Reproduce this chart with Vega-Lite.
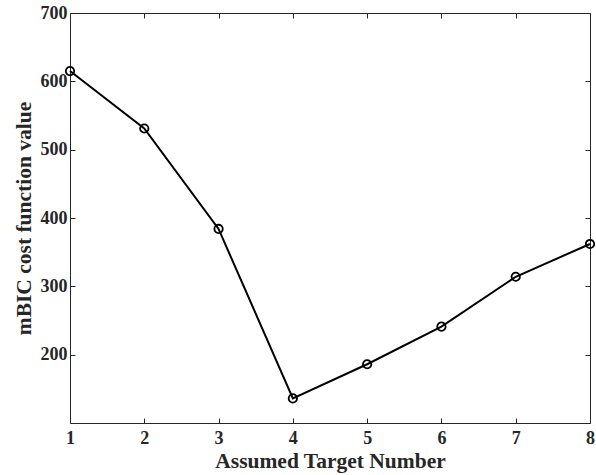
{
  "$schema": "https://vega.github.io/schema/vega-lite/v6.json",
  "autosize": "none",
  "width": 520,
  "height": 410,
  "padding": {"left": 70, "top": 13, "right": 6, "bottom": 52},
  "background": "white",
  "config": {
    "view": {"stroke": null},
    "font": "Liberation Serif",
    "axis": {
      "grid": false,
      "domainColor": "#262626",
      "tickColor": "#262626",
      "labelColor": "#262626",
      "titleColor": "#262626",
      "labelFont": "Liberation Serif",
      "titleFont": "Liberation Serif",
      "labelFontWeight": "bold",
      "titleFontWeight": "bold",
      "labelFontSize": 18,
      "titleFontSize": 21.5,
      "domainWidth": 1,
      "tickWidth": 1,
      "tickSize": -5
    }
  },
  "data": {
    "values": [
      {"n": 1, "v": 615},
      {"n": 2, "v": 531},
      {"n": 3, "v": 384},
      {"n": 4, "v": 136},
      {"n": 5, "v": 186},
      {"n": 6, "v": 241},
      {"n": 7, "v": 314},
      {"n": 8, "v": 362}
    ]
  },
  "resolve": {"axis": {"x": "independent", "y": "independent"}},
  "layer": [
    {
      "mark": {"type": "line", "color": "black", "strokeWidth": 2},
      "encoding": {
        "x": {"field": "n", "type": "quantitative", "scale": {"domain": [1, 8], "nice": false},
              "axis": {"title": "Assumed Target Number", "values": [1,2,3,4,5,6,7,8], "labelPadding": 11, "titlePadding": 3, "labelFlush": false}},
        "y": {"field": "v", "type": "quantitative", "scale": {"domain": [100, 700], "nice": false, "zero": false},
              "axis": {"title": "mBIC cost function value", "values": [200,300,400,500,600,700], "labelPadding": 8, "titlePadding": 5, "labelFlush": false}}
      }
    },
    {
      "mark": {"type": "point", "shape": "circle", "filled": false, "color": "black", "strokeWidth": 1.8, "size": 70, "opacity": 1},
      "encoding": {
        "x": {"field": "n", "type": "quantitative", "scale": {"domain": [1, 8], "nice": false},
              "axis": {"orient": "top", "title": null, "labels": false, "values": [1,2,3,4,5,6,7,8]}},
        "y": {"field": "v", "type": "quantitative", "scale": {"domain": [100, 700], "nice": false, "zero": false},
              "axis": {"orient": "right", "title": null, "labels": false, "values": [200,300,400,500,600,700]}}
      }
    }
  ]
}
